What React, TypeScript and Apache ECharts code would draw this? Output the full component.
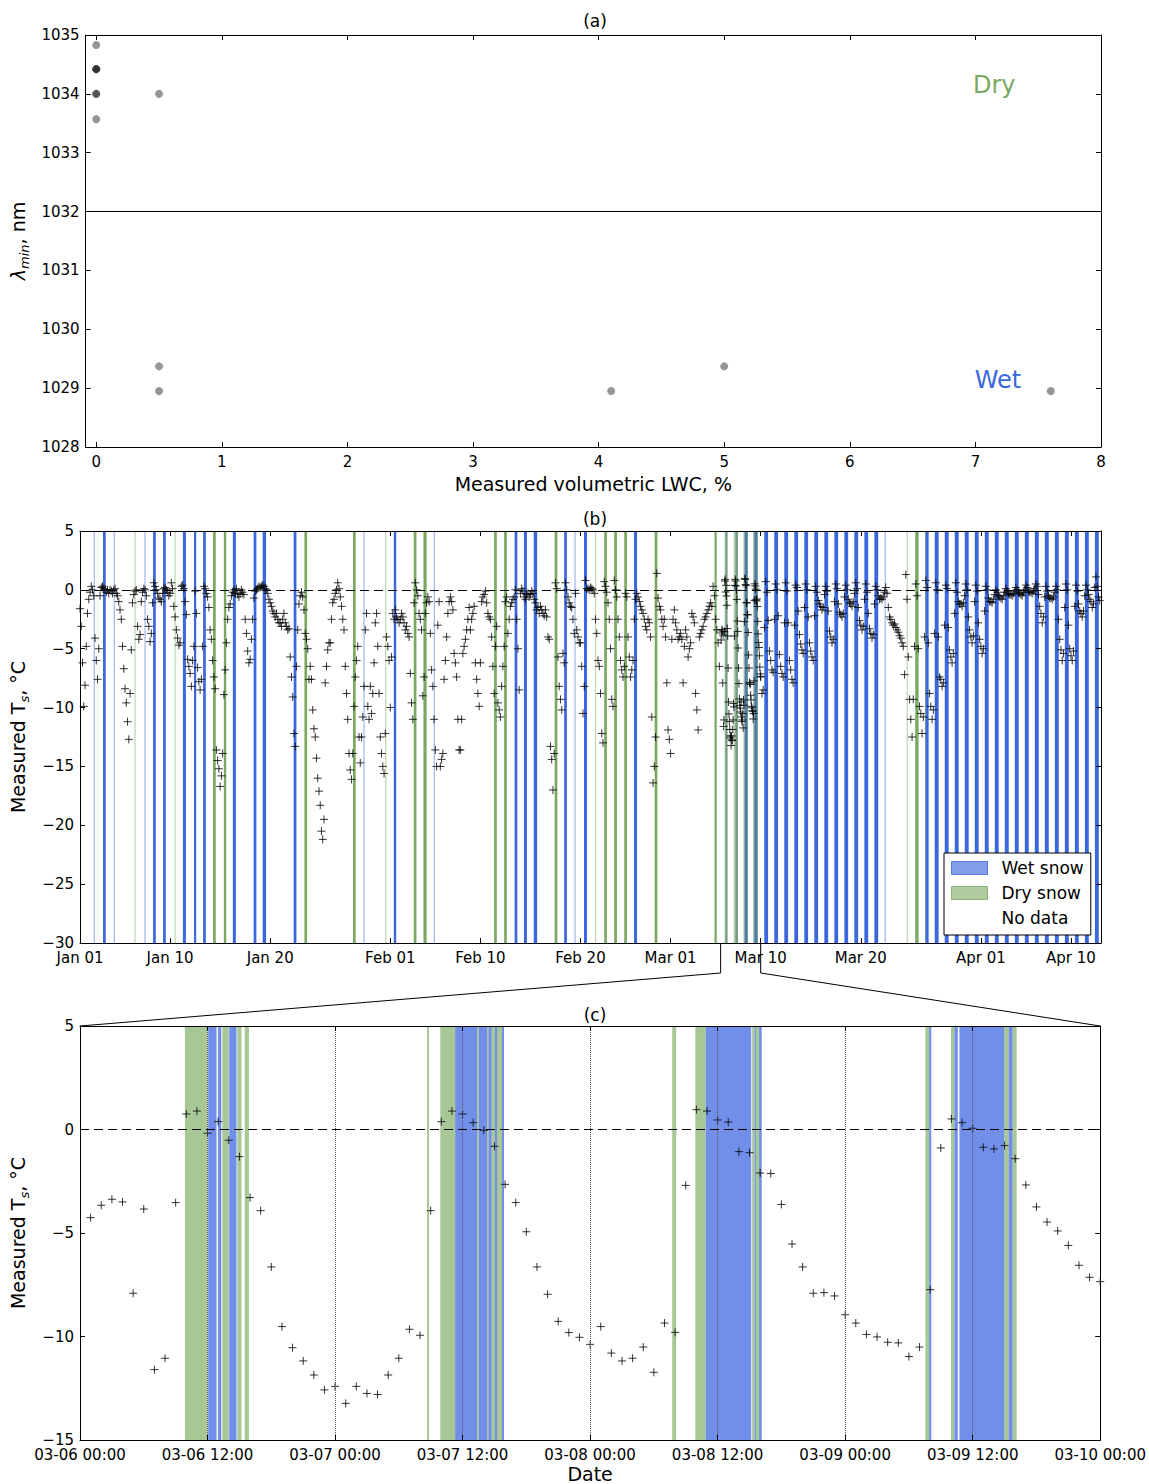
import React, { useEffect, useRef } from "react";
import * as echarts from "echarts";

const FONT = "DejaVu Sans";
const WET_B = "#3a67dc";
const DRY_B = "#79a960";
const WET_C = "#4169e1";
const DRY_C = "#79a960";

// ---------- Panel (a) ----------
const lwcPercent = [0, 0, 0, 0, 0, 0, 0, 0.5, 0.5, 0.5, 4.1, 5.0, 7.6];
const lambdaMin = [1034.83, 1034.42, 1034.42, 1034.42, 1034.0, 1034.0, 1033.57, 1034.0, 1029.37, 1028.95, 1028.95, 1029.37, 1028.95];
const lambdaThreshold = 1032;
const aXTicks = [0, 1, 2, 3, 4, 5, 6, 7, 8];
const aXMin = -0.085;
const aXMax = 8;

// ---------- Panel (b) ----------
// days since Jan 01 00:00
const bTickDays = [0, 9, 19, 31, 40, 50, 59, 68, 78, 90, 99];
const bTickLabels = ["Jan 01", "Jan 10", "Jan 20", "Feb 01", "Feb 10", "Feb 20", "Mar 01", "Mar 10", "Mar 20", "Apr 01", "Apr 10"];
const sampleHours = [0, 3, 6, 9, 12, 15, 18, 21];
const janOffset = 0;
const febOffset = 31;
const marOffset = 59;
const aprOffset = 90;

const tsJan = [
  [-1.6, -3.1, -6.2, -9.9, -8.1, -4.8, -2.0, -0.8],
  [-0.2, 0.3, 0.0, -0.5, -4.1, -6.0, -7.6, -5.0],
  [-0.5, 0.2, 0.3, 0.1, 0.0, -0.2, 0.0, -0.3],
  [0.0, -0.1, -0.3, 0.0, 0.1, -0.3, -0.5, -1.0],
  [-1.7, -2.5, -4.8, -6.7, -8.4, -9.6, -11.2, -12.7],
  [-8.8, -5.1, -1.1, -0.4, -0.1, 0.0, -3.1, -4.2],
  [-3.8, -1.0, -0.2, 0.1, 0.0, -0.5, -2.5, -3.1],
  [-4.4, -3.7, -1.1, 0.6, 0.3, 0.0, -0.3, -0.7],
  [-0.8, -1.0, -0.3, 0.1, 0.2, 0.0, -0.2, -0.5],
  [-0.3, 0.6, 0.1, -1.4, -2.3, -3.4, -4.1, -4.7],
  [-4.5, 0.3, 0.4, 0.1, -1.0, -2.1, -5.9, -6.5],
  [-7.1, -8.2, -6.0, -4.8, -0.1, -2.0, -6.6, -7.8],
  [-8.5, -7.6, -4.8, 0.3, 0.1, -0.3, -0.6, -1.5],
  [-3.4, -4.2, -6.0, -7.4, -8.4, -13.6, -14.5, -15.2],
  [-16.7, -15.8, -13.9, -8.9, -6.8, -4.5, -2.5, -1.5],
  [-1.2, -0.5, -0.2, 0.0, -0.3, 0.1, -0.4, -0.6],
  [-0.3, 0.0, -0.2, -0.4, -2.5, -3.7, -5.2, -6.2],
  [-5.9, -4.2, -2.5, -0.7, -0.1, 0.0, 0.1, 0.3],
  [0.2, 0.3, 0.4, 0.3, 0.1, 0.0, -0.3, -0.8],
  [-1.1, -1.4, -1.8, -2.0, -2.3, -2.0, -2.5, -2.8],
  [-2.8, -3.1, -2.5, -2.0, -2.8, -3.1, -3.4, -3.3],
  [-5.7, -7.4, -9.1, -12.2, -13.3, -6.5, -3.4, -1.2],
  [-0.5, -0.2, -0.6, -1.7, -3.7, -4.2, -5.0, -7.6],
  [-6.5, -7.6, -10.2, -11.8, -12.5, -14.3, -16.0, -17.1],
  [-18.3, -20.5, -21.2, -19.5, -7.9, -6.5, -5.1, -4.5],
  [-4.5, -2.5, -1.1, -0.8, -0.3, 0.0, 0.6, 0.1],
  [-0.6, -1.4, -2.5, -3.4, -6.5, -8.8, -11.0, -13.9],
  [-15.3, -16.1, -13.9, -9.9, -7.4, -6.0, -4.8, -12.5],
  [-14.7, -12.5, -10.8, -8.2, -3.4, -2.0, -9.9, -11.0],
  [-8.2, -10.5, -8.8, -6.2, -2.8, -2.0, -4.8, -8.8],
  [-12.5, -13.9, -15.0, -15.6, -12.2, -4.0, -4.8, -6.0],
];

const tsFeb = [
  [-10.0, -5.7, -2.0, -2.5, -1.7, -2.3, -2.5, -2.8],
  [-2.5, -2.0, -2.3, -2.8, -3.4, -3.1, -3.7, -4.0],
  [-7.1, -9.6, -11.0, -1.1, 0.6, 0.0, -0.5, -2.0],
  [-2.5, -3.4, -9.0, -7.4, -2.0, -1.1, -0.6, -1.0],
  [-3.7, -6.8, -8.2, -11.0, -13.6, -15.0, -3.0, -1.0],
  [-15.0, -14.4, -13.9, -7.6, -6.0, -4.0, -2.0, -1.0],
  [-0.6, -1.0, -1.7, -5.4, -6.2, -7.4, -11.0, -13.6],
  [-13.6, -11.0, -5.4, -4.8, -4.2, -3.4, -2.5, -1.5],
  [-3.4, -2.5, -2.0, -1.4, -6.2, -7.6, -8.8, -9.9],
  [-6.2, -1.0, -0.6, -0.4, -0.1, -1.1, -2.0, -2.3],
  [-2.5, -4.0, -6.5, -8.8, -4.8, -3.1, -9.6, -10.2],
  [-10.8, -8.2, -6.5, -4.8, -1.0, -0.6, -3.7, -2.5],
  [-1.4, -1.1, -0.8, -0.6, 0.0, -2.5, -5.0, -8.5],
  [-0.3, 0.1, -0.1, -0.6, -0.8, -0.4, -0.3, -0.6],
  [-0.4, -0.1, -0.3, -0.8, -1.1, -1.7, -1.5, -2.0],
  [-1.4, -1.7, -2.0, -2.2, -1.7, -2.3, -4.0, -4.2],
  [-13.3, -14.4, -17.0, -13.9, 0.6, 0.1, -5.7, -8.2],
  [-9.3, -10.2, -5.4, -6.2, 0.6, 0.0, -0.6, -1.1],
  [-1.4, -1.5, -2.5, -3.7, -0.3, -3.4, -4.0, -4.5],
  [-4.5, -6.5, -10.5, -8.2, 0.8, 0.1, 0.1, 0.0],
  [0.2, 0.1, 0.0, -0.3, -2.5, -3.7, -6.0, -6.5],
  [-8.8, -12.2, -13.0, 0.7, 0.3, -0.2, -1.1, -2.5],
  [-5.0, -9.3, -9.9, 0.8, 0.0, -0.6, -2.5, -4.0],
  [-6.0, -6.8, -7.4, -6.5, -0.3, -0.6, -4.0, -5.7],
  [-7.4, -6.8, -6.0, -2.5, -0.8, -0.3, -0.6, -1.0],
  [-1.4, -1.7, -2.0, -2.5, -3.1, -3.4, -2.5, -2.8],
  [-4.0, -10.8, -16.4, -15.0, -12.5, 1.4, -0.7, -1.4],
  [-1.7, -2.5, -3.1, -2.5, -4.0, -7.9, -11.9, -12.7],
];

// Mar 06 - Mar 09 come from the hourly record of panel (c)
const tsMar = [
  [-13.9, -4.2, -2.5, -1.7, -2.8, -3.4, -4.2, -4.0],
  [-3.7, -4.2, -7.9, -4.8, -3.4, -4.0, -5.7, -5.0],
  [-4.5, -2.0, -2.3, -2.8, -8.8, -10.2, -11.9, -4.0],
  [-3.7, -3.4, -3.1, -2.5, -2.3, -2.0, -1.7, -1.4],
  [-1.1, -1.4, 0.3, -0.5, -2.5, -3.4, -4.5, -6.5],
  [],
  [],
  [],
  [],
  [-7.4, -8.8, -8.5, -3.2, 0.7, -0.2, -2.6, -5.2],
  [-6.0, -6.8, -7.0, -2.5, 0.5, 0.0, -2.2, -5.5],
  [-6.5, -7.1, -7.4, -2.8, 0.6, -0.1, -2.8, -6.0],
  [-6.8, -7.6, -7.9, -3.0, 0.4, 0.2, -1.8, -3.8],
  [-4.6, -5.1, -5.4, -1.5, 0.5, 0.0, -2.3, -4.5],
  [-5.2, -5.7, -6.0, -2.2, 0.3, -0.2, -0.9, -1.2],
  [-1.4, -1.7, -1.5, -0.4, 0.3, -0.1, -1.8, -3.5],
  [-4.0, -4.5, -4.2, -1.0, 0.5, 0.1, -1.2, -1.9],
  [-2.1, -2.3, -2.0, -0.6, 0.4, 0.0, -0.8, -1.1],
  [-1.2, -1.4, -1.0, -0.3, 0.6, 0.1, -1.5, -2.6],
  [-3.0, -3.4, -3.1, -0.8, 0.5, -0.2, -2.0, -3.3],
  [-3.7, -4.1, -3.8, -1.2, 0.3, 0.0, -0.5, -0.8],
  [-0.7, -0.8, -0.6, -0.2, 0.2, -0.3, -1.5, -2.3],
  [-2.5, -2.8, -3.0, -2.9, -3.2, -3.4, -3.6, -3.9],
  [-4.1, -4.5, -4.8, -7.2, 1.3, -0.8, -5.7, -9.3],
  [-11.0, -12.5, -9.3, -4.8, 0.5, -0.5, -5.0, -9.9],
  [-10.5, -12.2, -10.8, -4.0, 0.8, 0.2, -4.5, -8.8],
  [-9.9, -11.0, -10.2, -3.7, 0.6, 0.0, -4.0, -7.4],
  [-7.6, -8.2, -7.9, -3.0, 0.4, 0.1, -3.2, -5.1],
  [-5.7, -6.2, -5.4, -2.0, 0.6, -0.2, -1.0, -1.2],
  [-1.2, -1.4, -1.1, -0.5, 0.5, 0.0, -2.3, -3.4],
  [-4.0, -4.5, -3.9, -1.0, 0.4, -0.1, -2.8, -4.2],
];

const tsApr = [
  [-4.8, -5.4, -5.0, -1.8, 0.3, 0.0, -0.7, -1.0],
  [-1.0, -1.1, -0.8, -0.4, 0.0, -0.2, -0.5, -0.6],
  [-0.7, -0.8, -0.5, -0.2, 0.1, -0.1, -0.3, -0.4],
  [-0.4, -0.5, -0.3, -0.1, 0.2, 0.0, -0.2, -0.3],
  [-0.4, -0.5, -0.2, 0.0, 0.4, 0.2, -0.1, -0.2],
  [-0.2, -0.3, -0.1, 0.1, 0.5, 0.3, -0.4, -1.4],
  [-2.0, -2.8, -2.3, -0.6, 0.3, -0.1, -0.5, -0.7],
  [-0.7, -0.8, -0.6, -0.2, 0.3, 0.0, -2.5, -4.2],
  [-5.1, -6.0, -5.4, -1.5, 0.5, 0.0, -3.0, -5.0],
  [-5.6, -6.0, -5.2, -1.4, 0.4, -0.1, -1.2, -1.8],
  [-2.0, -2.3, -1.8, -0.5, 0.4, 0.0, -0.4, -0.8],
  [-1.0, -1.5, -1.2, 0.2, 1.1, 0.3, -0.6, -0.9],
];

// wet / dry snow spans in panel (b), [start day, end day]
const bWetSpans = [
  [1.39, 1.47], [2.36, 2.51], [3.41, 3.45], [6.47, 6.53], [7.36, 7.51], [8.36, 8.51], [10.34, 10.52],
  [11.45, 11.55], [12.36, 12.51], [15.33, 15.51], [17.41, 17.56], [18.31, 18.53], [21.41, 21.56],
  [28.35, 28.4], [31.41, 31.53], [35.36, 35.44], [43.48, 43.63], [44.41, 44.59], [45.39, 45.61],
  [48.43, 48.58], [49.43, 49.48], [50.41, 50.59], [55.41, 55.59],
  [68.42, 68.68], [69.42, 69.68], [70.42, 70.68], [71.42, 71.68], [72.42, 72.68], [73.42, 73.68],
  [74.42, 74.68], [75.42, 75.68], [76.42, 76.68], [77.42, 77.68], [78.42, 78.68], [79.42, 79.68],
  [80.42, 80.47],
  [84.5, 84.72], [85.45, 85.72], [86.45, 86.72], [87.45, 87.72], [88.45, 88.72], [89.45, 89.72],
  [90.45, 90.72], [91.45, 91.72], [92.45, 92.72], [93.45, 93.72], [94.45, 94.72], [95.45, 95.72],
  [96.45, 96.72], [97.45, 97.72], [98.45, 98.72], [99.45, 99.72], [100.45, 100.72], [101.45, 101.72],
];
const bDrySpans = [
  [5.48, 5.52], [9.46, 9.54], [13.35, 13.5], [14.43, 14.55], [22.48, 22.63], [27.33, 27.48],
  [30.52, 30.56], [33.4, 33.55], [34.37, 34.57], [41.43, 41.58], [42.43, 42.58], [47.48, 47.63],
  [51.48, 51.53], [52.43, 52.58], [53.43, 53.58], [54.43, 54.58], [57.47, 57.62], [63.45, 63.55],
  [82.62, 82.67], [83.5, 83.72], [84.45, 84.5],
];

// ---------- Panel (c) ----------
const cStartDay = 64; // Mar 06 00:00
const cHours = 96;
// hourly temperatures from 03-06 01:00 to 03-10 00:00
const cTempHourly = [
  -4.26, -3.66, -3.37, -3.5, -7.91, -3.84, -11.6, -11.05, -3.53, 0.75, 0.89, -0.18,
  0.38, -0.52, -1.31, -3.29, -3.92, -6.64, -9.52, -10.54, -11.18, -11.86, -12.58, -12.41,
  -13.23, -12.41, -12.75, -12.8, -11.86, -11.05, -9.65, -9.94, -3.92, 0.38, 0.89, 0.75,
  0.33, -0.04, -0.81, -2.65, -3.53, -4.94, -6.64, -7.96, -9.27, -9.81, -10.04, -10.38,
  -9.52, -10.8, -11.18, -11.05, -10.51, -11.73, -9.35, -9.8, -2.7, 0.96, 0.89, 0.46,
  0.36, -1.07, -1.12, -2.1, -2.13, -3.62, -5.53, -6.64, -7.91, -7.88, -8.04, -8.95,
  -9.35, -9.9, -10.02, -10.28, -10.31, -10.97, -10.51, -7.74, -0.89, 0.51, 0.33, 0.06,
  -0.86, -0.94, -0.78, -1.41, -2.68, -3.74, -4.47, -4.9, -5.6, -6.56, -7.14, -7.35,
];
// spans in hours since 03-06 00:00
const cDrySpans = [
  [9.87, 12.0], [13.4, 14.0], [14.8, 15.2], [15.5, 15.9],
  [32.66, 32.85], [33.9, 35.3], [37.36, 37.5], [38.3, 38.43], [38.74, 39.05], [39.24, 39.71],
  [55.73, 56.1], [57.9, 58.87], [63.25, 63.47], [63.6, 63.9],
  [79.55, 79.9], [81.96, 82.27], [86.97, 87.38], [87.76, 88.14],
];
const cWetSpans = [
  [12.06, 12.85], [12.98, 13.3], [14.04, 14.73],
  [35.3, 37.36], [37.5, 38.3], [38.43, 38.74], [39.05, 39.24], [39.71, 39.9],
  [58.87, 63.16], [63.47, 63.6], [63.9, 64.15],
  [79.9, 80.1], [82.27, 82.6], [82.75, 86.97], [87.38, 87.76],
];

// ---------- helpers ----------
const minus = (v: any) => String(v).replace("-", "\u2212");
const tickLabel = { color: "#000", fontSize: 15, fontFamily: FONT };
const axisLine = { show: true, onZero: false, lineStyle: { color: "#000", width: 1 } };
const tickIn = (extra: any = {}) => ({ show: true, inside: true, length: 5, lineStyle: { color: "#000", width: 1 }, ...extra });

function buildPanelBPoints() {
  const pts: number[][] = [];
  const months: any[] = [[tsJan, janOffset], [tsFeb, febOffset], [tsMar, marOffset], [tsApr, aprOffset]];
  months.forEach(([rows, off]) => {
    rows.forEach((row: number[], i: number) => {
      row.forEach((v, k) => pts.push([off + i + sampleHours[k] / 24, v]));
    });
  });
  cTempHourly.forEach((v, i) => pts.push([cStartDay + (i + 1) / 24, v]));
  return pts;
}

function bandSeries(name: string, spans: number[][], axisIdx: number, yMin: number, yMax: number, color: string, panel: string, baseOpacity: number) {
  return {
    type: "custom",
    name,
    xAxisIndex: axisIdx,
    yAxisIndex: axisIdx,
    silent: true,
    z: 2,
    clip: true,
    itemStyle: { color },
    encode: { x: [0, 1] },
    data: spans,
    renderItem: (params: any, api: any) => {
      const a = api.coord([api.value(0), yMax]);
      const b = api.coord([api.value(1), yMin]);
      let x = a[0];
      let w = b[0] - a[0];
      let op = baseOpacity;
      if (panel === "b") {
        if (w < 1) {
          x -= (1.3 - w) / 2;
          w = 1.3;
          op = 0.45;
        } else {
          x -= 0.6;
          w += 1.2;
        }
      }
      return {
        type: "rect",
        shape: { x, y: a[1], width: w, height: b[1] - a[1] },
        style: { fill: color, opacity: op },
      };
    },
  };
}

const plusSymbol = "path://M0,5L10,5M5,0L5,10";

function buildOption(): any {
  const bPoints = buildPanelBPoints();
  const cPoints = cTempHourly.map((v, i) => [i + 1, v]);
  const cDryB = cDrySpans.map((s) => [cStartDay + s[0] / 24, cStartDay + s[1] / 24]);
  const cWetB = cWetSpans.map((s) => [cStartDay + s[0] / 24, cStartDay + s[1] / 24]);

  const cLabel = (h: number) => {
    const day = 6 + Math.floor(h / 24);
    const hh = h % 24;
    return `03-${String(day).padStart(2, "0")} ${String(hh).padStart(2, "0")}:00`;
  };

  const yName = (gap: number) => ({
    nameLocation: "middle",
    nameRotate: 90,
    nameGap: gap,
  });

  const tsName = "{t|Measured T}{s|s}{t|, \u00b0C}";
  const tsRich = {
    t: { fontSize: 19, fontFamily: FONT, color: "#000", lineHeight: 26, verticalAlign: "middle" },
    s: { fontSize: 13, fontFamily: FONT, fontStyle: "italic", color: "#000", lineHeight: 26, verticalAlign: "bottom" },
  };
  const titleStyle = { fontSize: 17, fontWeight: "normal", color: "#000", fontFamily: FONT };

  return {
    animation: false,
    backgroundColor: "#fff",
    textStyle: { fontFamily: FONT },
    title: [
      { text: "(a)", left: 590, top: 7, textAlign: "center", textStyle: titleStyle },
      { text: "(b)", left: 590, top: 505, textAlign: "center", textStyle: titleStyle },
      { text: "(c)", left: 590, top: 1001, textAlign: "center", textStyle: titleStyle },
    ],
    grid: [
      { left: 80, top: 35, width: 1021, height: 412 },
      { left: 80, top: 531, width: 1021, height: 412 },
      { left: 80, top: 1026, width: 1021, height: 414 },
    ],
    legend: {
      left: 944,
      top: 853,
      orient: "vertical",
      icon: "rect",
      itemWidth: 36,
      itemHeight: 13,
      itemGap: 5,
      padding: [5, 7, 7, 7],
      backgroundColor: "#fff",
      borderColor: "#000",
      borderWidth: 1,
      borderRadius: 0,
      selectedMode: false,
      textStyle: { fontSize: 17, fontFamily: FONT, color: "#000", lineHeight: 20, padding: [0, 0, 0, 9] },
      data: [
        { name: "Wet snow", itemStyle: { color: "rgba(65,105,225,0.65)", borderColor: "rgba(65,105,225,0.85)", borderWidth: 1 } },
        { name: "Dry snow", itemStyle: { color: "rgba(121,169,96,0.6)", borderColor: "rgba(121,169,96,0.8)", borderWidth: 1 } },
        { name: "No data", itemStyle: { color: "#fff", borderColor: "#fff", borderWidth: 0 } },
      ],
    },
    xAxis: [
      {
        gridIndex: 0, type: "value", min: aXMin, max: aXMax, z: 5,
        axisLine, axisTick: tickIn({ customValues: aXTicks }),
        axisLabel: { ...tickLabel, margin: 7, customValues: aXTicks, formatter: minus },
        splitLine: { show: false },
        name: "Measured volumetric LWC, %", nameLocation: "middle", nameGap: 27,
        nameTextStyle: { fontSize: 19, color: "#000", fontFamily: FONT },
      },
      {
        gridIndex: 0, type: "value", position: "top", min: aXMin, max: aXMax, z: 5,
        axisLine, axisTick: tickIn({ customValues: aXTicks }),
        axisLabel: { show: false, customValues: aXTicks }, splitLine: { show: false },
      },
      {
        gridIndex: 1, type: "value", min: 0, max: 102, z: 5,
        axisLine, axisTick: tickIn({ customValues: bTickDays }),
        axisLabel: {
          ...tickLabel, margin: 7, customValues: bTickDays,
          formatter: (v: number) => bTickLabels[bTickDays.indexOf(Math.round(v))] ?? "",
        },
        splitLine: { show: false },
      },
      {
        gridIndex: 1, type: "value", position: "top", min: 0, max: 102, z: 5,
        axisLine, axisTick: tickIn({ customValues: bTickDays }),
        axisLabel: { show: false, customValues: bTickDays }, splitLine: { show: false },
      },
      {
        gridIndex: 2, type: "value", min: 0, max: cHours, interval: 12, z: 5,
        axisLine, axisTick: tickIn(),
        axisLabel: { ...tickLabel, margin: 7, formatter: cLabel },
        splitLine: { show: true, lineStyle: { type: "dotted", color: "#555", width: 1 } },
        name: "Date", nameLocation: "middle", nameGap: 24,
        nameTextStyle: { fontSize: 19, color: "#000", fontFamily: FONT },
      },
      {
        gridIndex: 2, type: "value", position: "top", min: 0, max: cHours, interval: 12, z: 5,
        axisLine, axisTick: tickIn(), axisLabel: { show: false }, splitLine: { show: false },
      },
    ],
    yAxis: [
      {
        gridIndex: 0, type: "value", min: 1028, max: 1035, interval: 1, z: 5,
        axisLine, axisTick: tickIn(), axisLabel: { ...tickLabel, margin: 6, formatter: (v: number) => String(v) },
        splitLine: { show: false },
        name: "{l|\u03bb}{s|min}{t|, nm}",
        ...yName(48),
        nameTextStyle: {
          color: "#000", fontFamily: FONT, fontSize: 19,
          rich: {
            l: { fontSize: 19, fontFamily: FONT, fontStyle: "italic", color: "#000", lineHeight: 26, verticalAlign: "middle" },
            s: { fontSize: 13, fontFamily: FONT, fontStyle: "italic", color: "#000", lineHeight: 26, verticalAlign: "bottom" },
            t: { fontSize: 19, fontFamily: FONT, color: "#000", lineHeight: 26, verticalAlign: "middle" },
          },
        },
      },
      {
        gridIndex: 0, type: "value", position: "right", min: 1028, max: 1035, interval: 1, z: 5,
        axisLine, axisTick: tickIn(), axisLabel: { show: false }, splitLine: { show: false },
      },
      {
        gridIndex: 1, type: "value", min: -30, max: 5, interval: 5, z: 5,
        axisLine, axisTick: tickIn(), axisLabel: { ...tickLabel, margin: 6, formatter: minus }, splitLine: { show: false },
        name: tsName, ...yName(44),
        nameTextStyle: { color: "#000", fontFamily: FONT, fontSize: 19, rich: tsRich },
      },
      {
        gridIndex: 1, type: "value", position: "right", min: -30, max: 5, interval: 5, z: 5,
        axisLine, axisTick: tickIn(), axisLabel: { show: false }, splitLine: { show: false },
      },
      {
        gridIndex: 2, type: "value", min: -15, max: 5, interval: 5, z: 5,
        axisLine, axisTick: tickIn(), axisLabel: { ...tickLabel, margin: 6, formatter: minus }, splitLine: { show: false },
        name: tsName, ...yName(44),
        nameTextStyle: { color: "#000", fontFamily: FONT, fontSize: 19, rich: tsRich },
      },
      {
        gridIndex: 2, type: "value", position: "right", min: -15, max: 5, interval: 5, z: 5,
        axisLine, axisTick: tickIn(), axisLabel: { show: false }, splitLine: { show: false },
      },
    ],
    series: [
      {
        type: "scatter", name: "LWC", xAxisIndex: 0, yAxisIndex: 0, z: 3,
        symbol: "circle", symbolSize: 8,
        itemStyle: { color: "rgba(0,0,0,0.52)" },
        data: lwcPercent.map((x, i) => [x, lambdaMin[i]]),
        markLine: {
          silent: true, symbol: ["none", "none"], label: { show: false },
          lineStyle: { color: "#000", type: "solid", width: 1 },
          data: [{ yAxis: lambdaThreshold }],
        },
      },
      bandSeries("Wet snow", [...bWetSpans, ...cWetB], 2, -30, 5, WET_B, "b", 1),
      bandSeries("Dry snow", [...bDrySpans, ...cDryB], 2, -30, 5, DRY_B, "b", 1),
      {
        type: "scatter", name: "Ts b", xAxisIndex: 2, yAxisIndex: 2, z: 3,
        symbol: plusSymbol, symbolSize: 8,
        itemStyle: { color: "rgba(0,0,0,0)", borderColor: "#000", borderWidth: 1 },
        data: bPoints,
        markLine: {
          silent: true, symbol: ["none", "none"], label: { show: false },
          lineStyle: { color: "#000", type: [9, 5], width: 1.2 },
          data: [{ yAxis: 0 }],
        },
      },
      bandSeries("Wet snow", cWetSpans, 4, -15, 5, WET_C, "c", 0.75),
      bandSeries("Dry snow", cDrySpans, 4, -15, 5, DRY_C, "c", 0.65),
      {
        type: "scatter", name: "Ts c", xAxisIndex: 4, yAxisIndex: 4, z: 3,
        symbol: plusSymbol, symbolSize: 8,
        itemStyle: { color: "rgba(0,0,0,0)", borderColor: "#000", borderWidth: 1 },
        data: cPoints,
        markLine: {
          silent: true, symbol: ["none", "none"], label: { show: false },
          lineStyle: { color: "#000", type: [9, 5], width: 1.2 },
          data: [{ yAxis: 0 }],
        },
      },
      { type: "scatter", name: "No data", xAxisIndex: 2, yAxisIndex: 2, data: [], itemStyle: { color: "#fff" } },
    ],
  };
}

function buildGraphics(chart: any) {
  const px = (si: number, pt: number[]) => chart.convertToPixel({ seriesIndex: si }, pt);
  const b0 = px(3, [cStartDay, -30]);
  const b1 = px(3, [cStartDay + cHours / 24, -30]);
  const c0 = px(6, [0, 5]);
  const c1 = px(6, [cHours, 5]);
  const drop = 30;
  const dry = px(0, [7.15, 1034.15]);
  const wet = px(0, [7.18, 1029.14]);
  return [
    {
      type: "polyline", silent: true, z: 10,
      shape: { points: [b0, [b0[0], b0[1] + drop], c0] },
      style: { stroke: "#000", lineWidth: 1, fill: null },
    },
    {
      type: "polyline", silent: true, z: 10,
      shape: { points: [b1, [b1[0], b1[1] + drop], c1] },
      style: { stroke: "#000", lineWidth: 1, fill: null },
    },
    {
      type: "text", x: dry[0], y: dry[1], silent: true, z: 10,
      style: { text: "Dry", fill: "#79a960", fontSize: 24, fontFamily: FONT, align: "center", verticalAlign: "middle" },
    },
    {
      type: "text", x: wet[0], y: wet[1], silent: true, z: 10,
      style: { text: "Wet", fill: "#3a67dc", fontSize: 24, fontFamily: FONT, align: "center", verticalAlign: "middle" },
    },
  ];
}

export default function App() {
  const ref = useRef<HTMLDivElement>(null);
  useEffect(() => {
    const chart = echarts.init(ref.current as HTMLDivElement, null, { renderer: "svg" });
    chart.setOption(buildOption());
    chart.setOption({ graphic: buildGraphics(chart) });
    return () => chart.dispose();
  }, []);
  return (
    <div
      ref={ref}
      style={{ position: "absolute", left: 0, top: 0, width: 1149, height: 1484, background: "#fff" }}
    />
  );
}
